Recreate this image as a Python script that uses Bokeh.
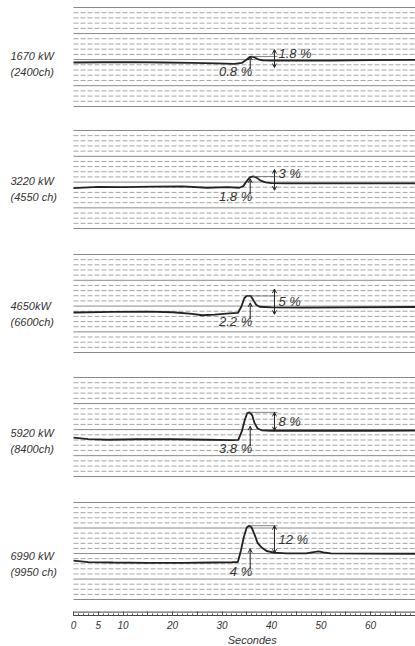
import numpy as np
from bokeh.plotting import figure
from bokeh.layouts import column
from bokeh.models import Range1d, Label, Arrow, OpenHead, FixedTicker, LinearAxis, Title, ColumnDataSource
from bokeh.embed import file_html
from bokeh.resources import INLINE

# ---------------- data ----------------
power_kw = ["1670 kW", "3220 kW", "4650kW", "5920 kW", "6990 kW"]
power_ch = ["(2400ch)", "(4550 ch)", "(6600ch)", "(8400ch)", "(9950 ch)"]
steady_rise = [0.8, 1.8, 2.2, 3.8, 4.0]      # % : lasting change after load step
overshoot = [1.8, 3.0, 5.0, 8.0, 12.0]       # % : transient peak above new level

# time in seconds, deviation in % (relative to initial level)
t1 = [0, 6, 12, 18, 24, 29, 32.5, 34.0, 34.8, 35.5, 36.0, 36.6, 37.3, 38.2, 40, 45, 52, 60, 70]
v1 = [0, 0.1, 0.2, 0.0, -0.2, -0.4, -0.6, -0.2, 1.0, 2.2, 2.6, 2.2, 1.4, 0.9, 0.8, 0.8, 0.8, 1.0, 1.2]

t2 = [0, 5, 10, 16, 22, 27, 31, 33.5, 34.3, 35.0, 35.6, 36.3, 37.0, 37.8, 38.8, 40, 43, 50, 60, 70]
v2 = [-0.3, 0.3, 0.2, 0.4, 0.5, -0.1, 0.2, -0.1, 0.6, 2.8, 4.4, 4.8, 4.3, 3.0, 2.2, 1.9, 1.8, 1.8, 1.8, 1.8]

t3 = [0, 8, 15, 20, 24, 26, 28.5, 31.5, 33.2, 33.9, 34.5, 35.0, 35.8, 36.3, 36.9, 37.6, 40, 46, 55, 70]
v3 = [0, 0.3, 0.4, 0.1, -0.6, -1.2, -0.9, -0.4, -0.2, 2.5, 6.2, 7.2, 7.2, 5.5, 3.4, 2.5, 2.2, 2.1, 2.2, 2.4]

t4 = [0, 3, 7, 13, 20, 27, 32, 33.3, 34.0, 34.6, 35.1, 35.6, 36.1, 36.6, 37.2, 38.0, 40, 50, 60, 70]
v4 = [0.8, 0.2, -0.1, 0.1, 0.1, -0.1, -0.3, -0.2, 3.5, 8.5, 11.5, 11.8, 10.5, 7.0, 4.8, 4.0, 3.8, 3.8, 3.8, 3.9]

t5 = [0, 3, 8, 15, 22, 28, 32, 33.2, 33.8, 34.4, 35.0, 35.5, 36.0, 36.6, 37.2, 38.0, 39.0, 40.5,
      43, 47, 48.5, 49.5, 50.5, 52, 60, 70]
v5 = [0.8, 0.2, 0, -0.2, -0.2, 0, 0.1, 0.2, 5, 11, 15.2, 16, 15.2, 12, 8.5, 6.5, 5.0, 4.3,
      4.0, 4.0, 4.5, 4.8, 4.4, 4.0, 3.9, 3.8]

times = [t1, t2, t3, t4, t5]
values = [v1, v2, v3, v4, v5]

labelled_ticks = [0, 5, 10, 20, 30, 40, 50, 60, 70]
ruler_steps = list(range(0, 75, 5))
ruler_seconds = list(range(0, 71))

# ---------------- layout / style ----------------
W = 415
PX_PER_S = 4.95
ORIGIN_PX = 73
x_start = -ORIGIN_PX / PX_PER_S
x_end = x_start + W / PX_PER_S
xr = Range1d(x_start, x_end)
PX_PER_PCT = 2.3
fig_h = [118, 124, 124, 124, 114]
panel_top = [7, 12, 12, 11, 12]
panel_h = [99, 98, 98, 99, 97]
base_off = [55, 57, 58, 62, 60]
n_rows = 20
heavy = {0, 5, 10, 15, 19}
FONT = "Liberation Sans"
INK = "#222222"
TXT = "#333333"
T_LO = 35.7
T_HI = 40.6


def base_fig(h, yr):
    p = figure(width=W, height=h, x_range=xr, y_range=yr, output_backend="svg",
               toolbar_location=None, x_axis_type=None, y_axis_type=None,
               min_border=0, outline_line_color=None, title=None)
    p.background_fill_color = "white"
    p.border_fill_color = "white"
    return p


figs = []
for i in range(5):
    H = fig_h[i]
    y_end = (panel_top[i] + base_off[i]) / PX_PER_PCT
    y_start = y_end - H / PX_PER_PCT
    p = base_fig(H, Range1d(y_start, y_end))

    offs = panel_top[i] + np.arange(n_rows) * panel_h[i] / (n_rows - 1)
    ys = y_end - offs / PX_PER_PCT
    light = [float(y) for j, y in enumerate(ys) if j not in heavy]
    dark = [float(y) for j, y in enumerate(ys) if j in heavy]
    p.segment(x0=[0] * len(light), x1=[x_end] * len(light), y0=light, y1=light,
              line_color="#a4a4a4", line_dash="5 2", line_width=1)
    p.segment(x0=[0] * len(dark), x1=[x_end] * len(dark), y0=dark, y1=dark,
              line_color="#8a8a8a", line_width=1)

    src = ColumnDataSource(data=dict(t=times[i], v=values[i]))
    p.line(x="t", y="v", source=src, line_color=INK, line_width=1.8)

    s = steady_rise[i]
    o = overshoot[i]
    peak = s + o
    t_peak = times[i][int(np.argmax(values[i]))]

    # peak level reference line
    p.segment(x0=[t_peak], x1=[T_HI + 0.6], y0=[peak], y1=[peak], line_color="#666666", line_width=0.8)

    # lower arrow (initial -> new level)
    p.add_layout(Arrow(end=OpenHead(size=4, line_color=INK, line_width=1), start=None,
                       x_start=T_LO, y_start=-3.0, x_end=T_LO, y_end=s + 2.0,
                       line_color=INK, line_width=1))
    # upper arrow (new level -> peak)
    if o <= 5:
        lo_y, hi_y = s - 3.0, peak + 3.0
    else:
        lo_y, hi_y = s, peak
    p.add_layout(Arrow(start=OpenHead(size=4, line_color=INK, line_width=1),
                       end=OpenHead(size=4, line_color=INK, line_width=1),
                       x_start=T_HI, y_start=lo_y, x_end=T_HI, y_end=hi_y,
                       line_color=INK, line_width=1))

    p.add_layout(Label(x=T_LO + 0.4, y=-9 / PX_PER_PCT, text=f"{s:g} %",
                       text_align="right", text_baseline="middle", text_font=FONT,
                       text_font_size="13px", text_font_style="italic", text_color=TXT))
    hy = peak + 1.5 if o < 5 else (s + peak) / 2
    p.add_layout(Label(x=T_HI + 0.8, y=hy, text=f"{o:g} %",
                       text_align="left", text_baseline="middle", text_font=FONT,
                       text_font_size="13px", text_font_style="italic", text_color=TXT))

    # power labels at left
    lx = x_start + 10 / PX_PER_S
    p.add_layout(Label(x=lx, y=7 / PX_PER_PCT, text=power_kw[i], text_align="left",
                       text_baseline="middle", text_font=FONT, text_font_size="11px",
                       text_font_style="italic", text_color=TXT))
    p.add_layout(Label(x=lx, y=-9 / PX_PER_PCT, text=power_ch[i], text_align="left",
                       text_baseline="middle", text_font=FONT, text_font_size="11px",
                       text_font_style="italic", text_color=TXT))
    figs.append(p)

# ---------------- time ruler ----------------
p6 = base_fig(41, Range1d(0, 13))
overrides = {k: ("" if k not in labelled_ticks else str(k)) for k in ruler_steps}
axis = LinearAxis(ticker=FixedTicker(ticks=ruler_steps, minor_ticks=ruler_seconds),
                  major_label_overrides=overrides, bounds=(0, ruler_seconds[-1]),
                  axis_line_color="#444444", axis_line_width=1,
                  major_tick_in=4, major_tick_out=0, major_tick_line_color="#444444",
                  minor_tick_in=2, minor_tick_out=0, minor_tick_line_color="#555555",
                  major_label_standoff=5, major_label_text_font=FONT,
                  major_label_text_font_size="10px", major_label_text_font_style="italic",
                  major_label_text_color=TXT)
p6.add_layout(axis, "below")
p6.segment(x0=[0], x1=[x_end], y0=[4], y1=[4], line_color="#444444", line_width=1)
title_off = ORIGIN_PX + 36 * PX_PER_S - 24
p6.add_layout(Title(text="Secondes", align="left", offset=title_off, standoff=0,
                    text_font=FONT, text_font_size="11px", text_font_style="italic",
                    text_color=TXT), "below")

layout = column(*figs, p6, spacing=0)
open("out.html", "w").write(file_html(layout, INLINE))
